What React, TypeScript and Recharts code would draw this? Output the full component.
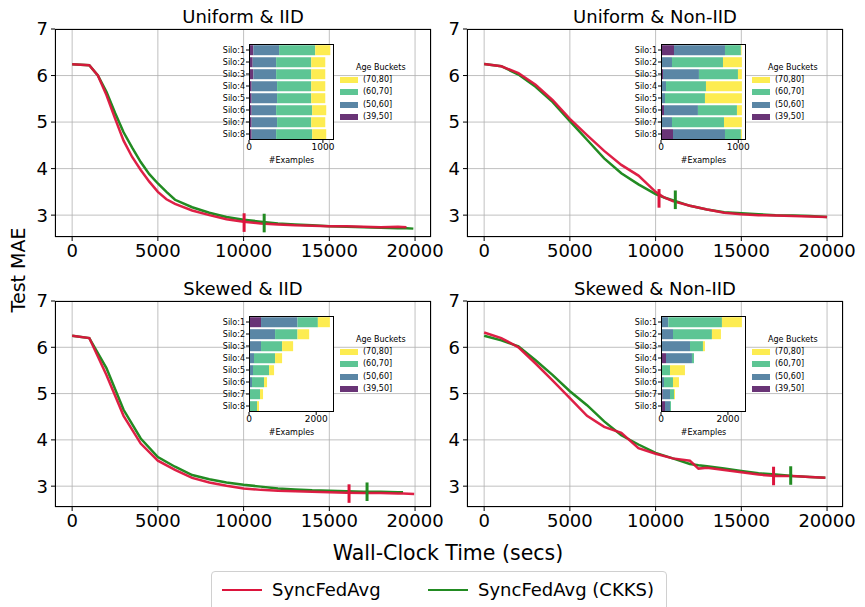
import React from "react";
import {
  LineChart,
  Line,
  XAxis,
  YAxis,
  CartesianGrid,
  ReferenceLine,
  BarChart,
  Bar,
} from "recharts";

const FONT = "'DejaVu Sans', Verdana, sans-serif";
const SYNC_COLOR = "#dc143c";
const CKKS_COLOR = "#228b22";

const seriesNames = ["SyncFedAvg", "SyncFedAvg (CKKS)"];
const panelTitles = ["Uniform & IID", "Uniform & Non-IID", "Skewed & IID", "Skewed & Non-IID"];
const xTicks = [0, 5000, 10000, 15000, 20000];
const yTicks = [3, 4, 5, 6, 7];

// Uniform & IID
const uiTime = [0, 1000, 1500, 2000, 2500, 3000, 3500, 4000, 4500, 5000, 5500, 6000, 7000, 8000, 9000, 10000, 11000, 12000, 13000, 14000, 15000, 16000, 17000, 18000, 19000, 19500, 19900];
const uiSync = [6.24, 6.22, 6.0, 5.58, 5.08, 4.6, 4.25, 3.97, 3.72, 3.5, 3.34, 3.24, 3.1, 3.0, 2.91, 2.86, 2.82, 2.8, 2.78, 2.77, 2.76, 2.76, 2.75, 2.74, 2.75, 2.74, null];
const uiCkks = [6.24, 6.22, 6.0, 5.65, 5.2, 4.78, 4.45, 4.14, 3.88, 3.68, 3.5, 3.33, 3.17, 3.05, 2.96, 2.9, 2.86, 2.82, 2.8, 2.78, 2.76, 2.75, 2.74, 2.73, 2.72, 2.72, 2.71];
const uiMarkerTime = [10030, 11200];
const uiMarkerMae = [2.84, 2.83];

// Uniform & Non-IID
const unTime = [0, 1000, 2000, 3000, 4000, 5000, 6000, 7000, 8000, 9000, 10000, 10500, 11000, 12000, 13000, 14000, 15000, 16000, 17000, 18000, 19000, 20000];
const unSync = [6.25, 6.2, 6.05, 5.8, 5.47, 5.07, 4.72, 4.38, 4.08, 3.85, 3.5, 3.38, 3.3, 3.2, 3.12, 3.05, 3.02, 3.0, 2.99, 2.98, 2.97, 2.96];
const unCkks = [6.25, 6.2, 6.02, 5.76, 5.43, 5.02, 4.62, 4.22, 3.9, 3.66, 3.45, 3.38, 3.32, 3.2, 3.12, 3.06, 3.04, 3.02, 3.0, 2.99, 2.98, 2.96];
const unMarkerTime = [10200, 11150];
const unMarkerMae = [3.36, 3.33];

// Skewed & IID
const siTime = [0, 1000, 2000, 3000, 4000, 5000, 6000, 7000, 8000, 9000, 10000, 11000, 12000, 13000, 14000, 15000, 16000, 17000, 18000, 19000, 19300, 19950];
const siSync = [6.25, 6.2, 5.4, 4.52, 3.92, 3.55, 3.35, 3.18, 3.08, 3.01, 2.95, 2.92, 2.9, 2.89, 2.88, 2.87, 2.86, 2.85, 2.85, 2.84, 2.84, 2.83];
const siCkks = [6.25, 6.2, 5.55, 4.65, 4.03, 3.63, 3.42, 3.24, 3.15, 3.08, 3.03, 2.99, 2.95, 2.93, 2.91, 2.9, 2.89, 2.88, 2.88, 2.87, 2.87, null];
const siMarkerTime = [16150, 17200];
const siMarkerMae = [2.84, 2.88];

// Skewed & Non-IID
const snTime = [0, 1000, 2000, 3000, 4000, 5000, 6000, 7000, 8000, 9000, 10000, 11000, 12000, 12500, 13000, 14000, 15000, 16000, 17000, 18000, 19000, 19900];
const snSync = [6.32, 6.2, 6.0, 5.65, 5.28, 4.9, 4.52, 4.28, 4.15, 3.82, 3.7, 3.6, 3.55, 3.38, 3.4, 3.35, 3.3, 3.25, 3.22, 3.22, 3.2, 3.18];
const snCkks = [6.25, 6.15, 6.02, 5.72, 5.4, 5.05, 4.75, 4.4, 4.1, 3.9, 3.72, 3.6, 3.48, 3.45, 3.43, 3.38, 3.33, 3.28, 3.25, 3.22, 3.2, 3.18];
const snMarkerTime = [16880, 17880];
const snMarkerMae = [3.22, 3.23];

// inset: examples per silo and age bucket
const siloLabels = ["Silo:1", "Silo:2", "Silo:3", "Silo:4", "Silo:5", "Silo:6", "Silo:7", "Silo:8"];
const ageBuckets = ["(39,50]", "(50,60]", "(60,70]", "(70,80]"];
const ageColors = ["#693476", "#5a86a5", "#5dc594", "#fdec51"];

const uiAge39 = [59, 50, 59, 36, 36, 36, 36, 36];
const uiAge50 = [348, 317, 308, 344, 344, 331, 344, 331];
const uiAge60 = [489, 475, 475, 462, 462, 488, 462, 488];
const uiAge70 = [204, 190, 190, 190, 190, 190, 190, 190];

const unAge39 = [168, 0, 26, 5, 5, 39, 0, 155];
const unAge50 = [660, 142, 465, 60, 47, 439, 142, 673];
const unAge60 = [206, 660, 505, 517, 517, 505, 673, 206];
const unAge70 = [9, 245, 51, 465, 478, 64, 232, 13];

const siAge39 = [358, 0, 0, 0, 0, 0, 0, 0];
const siAge50 = [1085, 776, 358, 149, 119, 90, 20, 20];
const siAge60 = [607, 667, 627, 627, 478, 358, 308, 219];
const siAge70 = [358, 348, 328, 209, 149, 89, 90, 59];

const snAge39 = [0, 0, 0, 149, 0, 0, 50, 119];
const snAge50 = [219, 358, 866, 776, 0, 90, 219, 150];
const snAge60 = [1602, 1164, 388, 60, 269, 268, 119, 29];
const snAge70 = [597, 269, 59, 0, 447, 179, 30, 0];

const ageKeys = ["a39", "a50", "a60", "a70"];

function siloRows(a39: number[], a50: number[], a60: number[], a70: number[]) {
  return siloLabels.map((silo, i) => ({ silo, a39: a39[i], a50: a50[i], a60: a60[i], a70: a70[i] }));
}

const panels = [
  { left: 0, top: 0, chartH: 270, yMin: 2.53, time: uiTime, sync: uiSync, ckks: uiCkks, mt: uiMarkerTime, mv: uiMarkerMae, bars: siloRows(uiAge39, uiAge50, uiAge60, uiAge70), barMax: 1150, barTicks: [0, 1000] },
  { left: 412, top: 0, chartH: 270, yMin: 2.53, time: unTime, sync: unSync, ckks: unCkks, mt: unMarkerTime, mv: unMarkerMae, bars: siloRows(unAge39, unAge50, unAge60, unAge70), barMax: 1100, barTicks: [0, 1000] },
  { left: 0, top: 272, chartH: 268, yMin: 2.55, time: siTime, sync: siSync, ckks: siCkks, mt: siMarkerTime, mv: siMarkerMae, bars: siloRows(siAge39, siAge50, siAge60, siAge70), barMax: 2530, barTicks: [0, 2000] },
  { left: 412, top: 272, chartH: 268, yMin: 2.55, time: snTime, sync: snSync, ckks: snCkks, mt: snMarkerTime, mv: snMarkerMae, bars: siloRows(snAge39, snAge50, snAge60, snAge70), barMax: 2540, barTicks: [0, 2000] },
];

const CHART_W = 452;
const RIGHT_M = 21;
const Y_W = 55;
const X_H = 33;
const M_TOP = 29;
const PLOT_W = CHART_W - Y_W - RIGHT_M;
const MARK_HALF = 0.2;

function Inset({ p }: { p: (typeof panels)[number] }) {
  const boxLeft = Y_W + 194;
  const boxTop = M_TOP + 15;
  const boxW = 85;
  const boxH = 96;
  const yw = 40;
  return (
    <>
      <div style={{ position: "absolute", left: boxLeft, top: boxTop, width: boxW, height: boxH, background: "#fff" }} />
      <div style={{ position: "absolute", left: boxLeft - yw, top: boxTop }}>
        <BarChart
          width={yw + boxW + 10}
          height={boxH + 28}
          data={p.bars}
          layout="vertical"
          margin={{ top: 0, right: 10, bottom: 0, left: 0 }}
          barCategoryGap="10%"
        >
          <XAxis
            type="number"
            domain={[0, p.barMax]}
            ticks={p.barTicks}
            allowDataOverflow
            axisLine={false}
            tickSize={3}
            tickMargin={1}
            height={28}
            interval={0}
            tick={{ fontSize: 9, fill: "#000" }}
            tickLine={{ stroke: "#000" }}
          />
          <YAxis
            type="category"
            dataKey="silo"
            width={yw}
            axisLine={false}
            tickSize={3}
            tickMargin={1}
            interval={0}
            tick={{ fontSize: 8, fill: "#000" }}
            tickLine={{ stroke: "#000" }}
          />
          {ageKeys.map((k, i) => (
            <Bar key={k} dataKey={k} stackId="s" fill={ageColors[i]} isAnimationActive={false} />
          ))}
        </BarChart>
      </div>
      <div style={{ position: "absolute", left: boxLeft, top: boxTop, width: boxW, height: boxH, border: "1px solid #000", boxSizing: "border-box" }} />
      <div style={{ position: "absolute", left: boxLeft, top: boxTop + 112, width: boxW, textAlign: "center", fontSize: 8 }}>#Examples</div>
      {/* inset legend */}
      <div style={{ position: "absolute", left: Y_W + 301, top: M_TOP + 34, fontSize: 8, lineHeight: "10px" }}>Age Buckets</div>
      {ageBuckets
        .map((b, i) => ({ b, c: ageColors[i] }))
        .reverse()
        .map((e, j) => (
          <div key={e.b} style={{ position: "absolute", left: Y_W + 285, top: M_TOP + 46 + j * 12.3, display: "flex", alignItems: "center", fontSize: 8, lineHeight: "10px" }}>
            <div style={{ width: 18, height: 6, background: e.c, marginRight: 5 }} />
            <span>{e.b}</span>
          </div>
        ))}
    </>
  );
}

function Panel({ p, title }: { p: (typeof panels)[number]; title: string }) {
  const syncData = p.time.map((t, i) => ({ t, v: p.sync[i] }));
  const ckksData = p.time.map((t, i) => ({ t, v: p.ckks[i] }));
  const plotH = p.chartH - M_TOP - X_H;
  return (
    <div style={{ position: "absolute", left: p.left, top: p.top, width: CHART_W, height: p.chartH }}>
      <div style={{ position: "absolute", left: Y_W, top: 6, width: PLOT_W, textAlign: "center", fontSize: 18, lineHeight: "22px" }}>
        {title}
      </div>
      <LineChart width={CHART_W} height={p.chartH} margin={{ top: M_TOP, right: RIGHT_M, bottom: 0, left: 0 }}>
        <CartesianGrid stroke="#b0b0b0" strokeWidth={0.8} />
        <XAxis
          type="number"
          dataKey="t"
          domain={[-1000, 20930]}
          ticks={xTicks}
          allowDataOverflow
          axisLine={false}
          tickSize={4}
          tickMargin={3}
          height={X_H}
          interval={0}
          tick={{ fontSize: 18, fill: "#000" }}
          tickLine={{ stroke: "#000" }}
        />
        <YAxis
          type="number"
          domain={[p.yMin, 7]}
          ticks={yTicks}
          allowDataOverflow
          axisLine={false}
          width={Y_W}
          tickSize={4}
          tickMargin={3}
          interval={0}
          tick={{ fontSize: 18, fill: "#000" }}
          tickLine={{ stroke: "#000" }}
        />
        <Line data={ckksData} dataKey="v" type="linear" stroke={CKKS_COLOR} strokeWidth={2.5} dot={false} isAnimationActive={false} />
        <Line data={syncData} dataKey="v" type="linear" stroke={SYNC_COLOR} strokeWidth={2.5} strokeOpacity={0.95} dot={false} isAnimationActive={false} />
        <ReferenceLine
          segment={[{ x: p.mt[0], y: p.mv[0] - MARK_HALF }, { x: p.mt[0], y: p.mv[0] + MARK_HALF }]}
          stroke={SYNC_COLOR}
          strokeWidth={3}
        />
        <ReferenceLine
          segment={[{ x: p.mt[1], y: p.mv[1] - MARK_HALF }, { x: p.mt[1], y: p.mv[1] + MARK_HALF }]}
          stroke={CKKS_COLOR}
          strokeWidth={3}
        />
      </LineChart>
      <div style={{ position: "absolute", left: Y_W, top: M_TOP, width: PLOT_W, height: plotH, border: "1px solid #000", boxSizing: "border-box", pointerEvents: "none" }} />
      <Inset p={p} />
    </div>
  );
}

export default function App() {
  return (
    <div style={{ position: "absolute", left: 0, top: 0, width: 865, height: 607, background: "#fff", fontFamily: FONT, color: "#000", overflow: "hidden" }}>
      {panels.map((p, i) => (
        <Panel key={i} p={p} title={panelTitles[i]} />
      ))}
      <div style={{ position: "absolute", left: 18 - 60, top: 270 - 12, width: 120, textAlign: "center", fontSize: 19, lineHeight: "24px", transform: "rotate(-90deg)" }}>
        Test MAE
      </div>
      <div style={{ position: "absolute", left: 248, top: 540, width: 400, textAlign: "center", fontSize: 20.5, lineHeight: "26px" }}>
        Wall-Clock Time (secs)
      </div>
      <div style={{ position: "absolute", left: 211, top: 571, width: 456, height: 40, border: "1px solid #d0d0d0", borderRadius: 4, boxSizing: "border-box" }}>
        {seriesNames.map((n, i) => (
          <div key={n} style={{ position: "absolute", left: i === 0 ? 10 : 216, top: 7, display: "flex", alignItems: "center", fontSize: 18, lineHeight: "22px" }}>
            <div style={{ width: 40, height: 2.5, background: i === 0 ? SYNC_COLOR : CKKS_COLOR, marginRight: 10 }} />
            <span>{n}</span>
          </div>
        ))}
      </div>
    </div>
  );
}
